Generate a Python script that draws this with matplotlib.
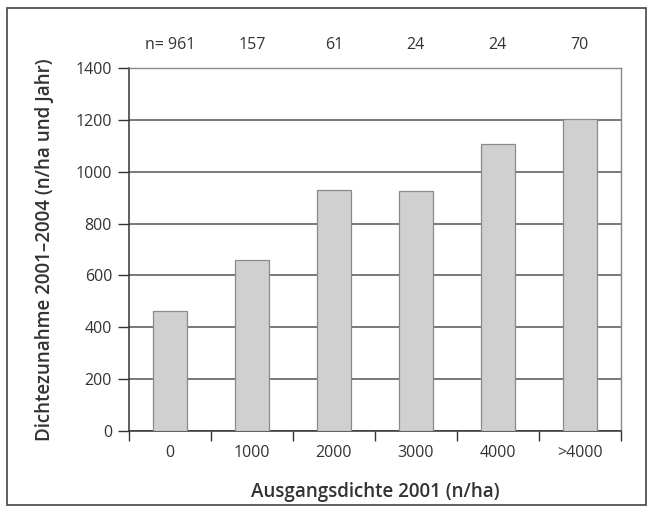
import matplotlib.pyplot as plt
from matplotlib.patches import Rectangle
from matplotlib.transforms import blended_transform_factory

# Daten
kategorien = ['0', '1000', '2000', '3000', '4000', '>4000']
zunahme = [462, 658, 930, 925, 1106, 1205]
n_werte = ['n= 961', '157', '61', '24', '24', '70']

plt.rcParams['font.family'] = ['Open Sans', 'DejaVu Sans']
textfarbe = '#333333'

fig = plt.figure(figsize=(6.57, 5.13), dpi=100)
ax = fig.add_axes([0.196, 0.160, 0.749, 0.707])

# Rahmen um die ganze Abbildung
fig.patches.append(Rectangle((0.011, 0.015), 0.972, 0.970, transform=fig.transFigure,
                             fill=False, edgecolor='#444444', linewidth=1.2))

x = range(len(kategorien))
ax.set_axisbelow(True)
ax.yaxis.grid(True, color='#555555', linewidth=1.1)
ax.bar(x, zunahme, width=0.42, color='#d0d0d0', edgecolor='#8a8a8a', linewidth=0.9, zorder=3)

ax.set_xlim(-0.5, len(kategorien) - 0.5)
ax.set_ylim(0, 1400)
ax.set_yticks(range(0, 1401, 200))
ax.tick_params(axis='y', length=8, width=1, color='#333333', labelsize=11.5,
               labelcolor=textfarbe, pad=4)

# x-Ticks zwischen den Kategorien
ax.set_xticks([i - 0.5 for i in range(len(kategorien) + 1)])
ax.set_xticklabels([])
ax.set_xticks(list(x), minor=True)
ax.set_xticklabels(kategorien, minor=True)
ax.tick_params(axis='x', which='major', length=7, width=1, color='#333333', direction='out')
ax.tick_params(axis='x', which='minor', length=0, labelsize=11.5, labelcolor=textfarbe, pad=10)

for seite in ['left', 'bottom']:
    ax.spines[seite].set_color('#333333')
    ax.spines[seite].set_linewidth(1.1)
for seite in ['top', 'right']:
    ax.spines[seite].set_color('#888888')
    ax.spines[seite].set_linewidth(1.0)

ax.set_ylabel('Dichtezunahme 2001–2004 (n/ha und Jahr)', fontsize=13.5,
              fontweight='semibold', color=textfarbe, va='center')
ax.set_xlabel('Ausgangsdichte 2001 (n/ha)', fontsize=13.5,
              fontweight='semibold', color=textfarbe, va='center')
ax.yaxis.set_label_coords(-0.171, 0.50)
ax.xaxis.set_label_coords(0.5, -0.168)

# Stichprobenumfang über den Balken
trans = blended_transform_factory(ax.transData, ax.transAxes)
for i, n in enumerate(n_werte):
    ax.text(i, 1.063, n, transform=trans, ha='center', va='center',
            fontsize=11.5, color=textfarbe)

fig.savefig('out.png', dpi=100)
